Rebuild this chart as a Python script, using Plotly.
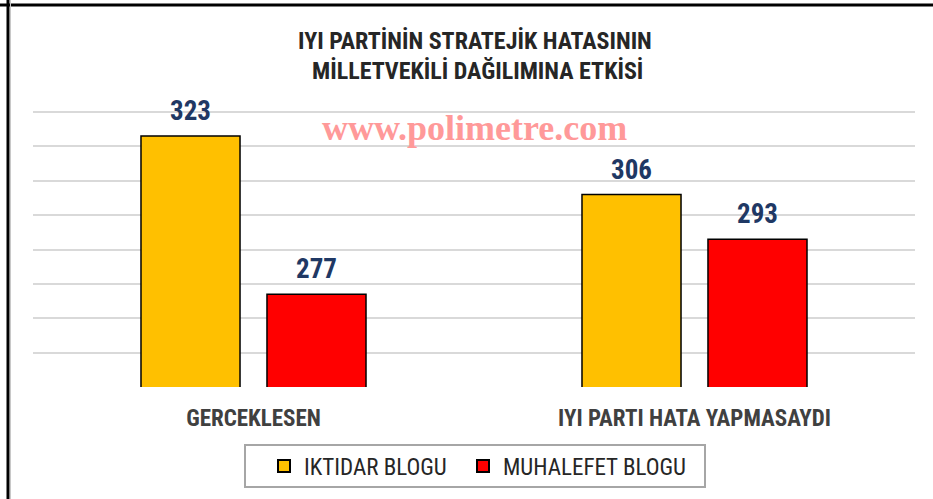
import plotly.graph_objects as go

categories = ["GERCEKLESEN", "IYI PARTI HATA YAPMASAYDI"]
series_names = ["IKTIDAR BLOGU", "MUHALEFET BLOGU"]
iktidar = [323, 306]
muhalefet = [277, 293]
colors = ["#FFC000", "#FF0000"]
title_lines = ["IYI PARTİNİN STRATEJİK HATASININ", "MİLLETVEKİLİ DAĞILIMINA ETKİSİ"]
watermark = "www.polimetre.com"

W, H = 933, 499
ml, mr, mt, mb = 33, 18, 111, 112
pw, ph = W - ml - mr, H - mt - mb

def px_x(x):
    return (x - ml) / pw

def px_y(y):
    return (H - mb - y) / ph

NARROW = "Liberation Sans Narrow, Roboto Condensed, Lato, sans-serif"
LABEL_FONT = dict(family=NARROW, size=27, color="#1F3864", weight="bold")

legend_refs = ["legend", "legend2"]
fig = go.Figure()
for name, vals, col, lg in zip(series_names, [iktidar, muhalefet], colors, legend_refs):
    fig.add_trace(go.Bar(
        name=name, x=categories, y=vals, legend=lg,
        marker=dict(color=col, line=dict(color="#000000", width=1.5)),
        cliponaxis=False,
    ))

# value labels above bars (positioned from the data values)
annotations = []
for shift, vals in zip([-63, 63], [iktidar, muhalefet]):
    for cat, v in zip(categories, vals):
        annotations.append(dict(x=cat, y=v, xref="x", yref="y", text=str(v),
                                showarrow=False, xshift=shift, yshift=25,
                                yanchor="middle", font=LABEL_FONT))

annotations += [
    dict(text=title_lines[0], xref="paper", yref="paper", x=px_x(475), y=px_y(41),
         yanchor="middle", showarrow=False,
         font=dict(family=NARROW, size=24, color="#262626", weight="bold")),
    dict(text=title_lines[1], xref="paper", yref="paper", x=px_x(477), y=px_y(71),
         yanchor="middle", showarrow=False,
         font=dict(family=NARROW, size=24, color="#262626", weight="bold")),
    dict(text=watermark, xref="paper", yref="paper", x=px_x(475), y=px_y(128),
         yanchor="middle", showarrow=False,
         font=dict(family="Liberation Serif, Times New Roman, serif",
                   size=36, color="#FF9999", weight="bold")),
]

legend_style = dict(orientation="h", xanchor="left", y=px_y(466), yanchor="middle",
                    borderwidth=0, bgcolor="rgba(0,0,0,0)",
                    font=dict(family=NARROW, size=23, color="#262626"),
                    itemsizing="constant")

fig.update_layout(
    width=W, height=H,
    margin=dict(l=ml, r=mr, t=mt, b=mb, autoexpand=False),
    paper_bgcolor="white", plot_bgcolor="white",
    barmode="group", bargap=0.4286, bargroupgap=0.214,
    showlegend=True,
    legend=dict(x=px_x(264), **legend_style),
    legend2=dict(x=px_x(463), **legend_style),
    xaxis=dict(showgrid=False, showline=False, ticks="",
               tickfont=dict(family=NARROW, size=23, color="#404040", weight="bold"),
               ticklabelstandoff=15),
    yaxis=dict(range=[250, 330.3], dtick=10, showticklabels=False, showline=False,
               zeroline=False, gridcolor="#D9D9D9", gridwidth=2, ticks=""),
    annotations=annotations,
    shapes=[
        dict(type="rect", xref="paper", yref="paper", x0=px_x(245), x1=px_x(705),
             y0=px_y(445), y1=px_y(487), line=dict(color="#A6A6A6", width=2),
             fillcolor="rgba(0,0,0,0)", layer="below"),
        dict(type="line", xref="paper", yref="paper", x0=px_x(0), x1=px_x(W), y0=px_y(5), y1=px_y(5),
             line=dict(color="#000000", width=3)),
        dict(type="line", xref="paper", yref="paper", x0=px_x(8), x1=px_x(8), y0=px_y(0), y1=px_y(H),
             line=dict(color="#000000", width=3)),
        dict(type="line", xref="paper", yref="paper", x0=px_x(10.5), x1=px_x(10.5), y0=px_y(0), y1=px_y(H),
             line=dict(color="#C8C8C8", width=1)),
    ],
)

fig.write_html("out.html", config={"displayModeBar": False},
               post_script="document.body.style.margin='0';")
